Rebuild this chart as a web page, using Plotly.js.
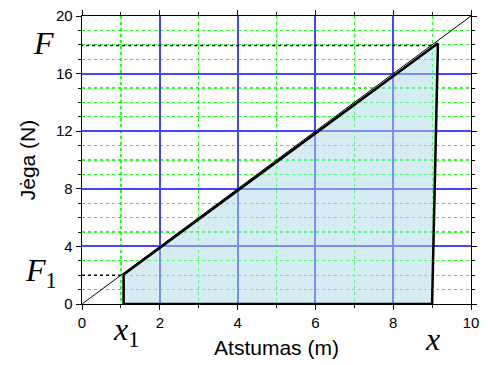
<!DOCTYPE html>
<html><head><meta charset="utf-8">
<script src="https://cdn.plot.ly/plotly-3.0.1.min.js"></script>
<style>body{margin:0;background:#fff}#c{width:491px;height:365px}</style>
</head><body><div id="c"></div>
<script>
// Reference line F = k x
const lineX = [0, 10];
const lineY = [0, 20];
// Shaded work area polygon (x1,F1) -> (x,F)
const areaX = [1.07, 1.07, 9.15, 9.0, 1.07];
const areaY = [0, 2.05, 18.1, 0, 0];
// Dotted guides for F1 and F
const guideF1X = [0, 1.07];
const guideF1Y = [2.0, 2.0];
const guideFX = [-0.2, 9.15];
const guideFY = [17.95, 17.95];
// Tick positions
const xTicks = [0, 2, 4, 6, 8, 10];
const yTicks = [0, 4, 8, 12, 16, 20];
const xMinor = [1, 3, 5, 7, 9];
const yMinor = [1, 2, 3, 5, 6, 7, 9, 10, 11, 13, 14, 15, 17, 18, 19];

const serif = 'Liberation Serif, Times New Roman, serif';
const sans = 'Arial, Liberation Sans, sans-serif';
const traces = [
  {x: areaX, y: areaY, mode: 'lines', fill: 'toself',
   fillcolor: 'rgba(170,218,230,0.5)',
   line: {color: 'black', width: 2.5}, hoverinfo: 'skip'},
  {x: lineX, y: lineY, mode: 'lines', line: {color: 'black', width: 1}},
  {x: guideF1X, y: guideF1Y, mode: 'lines', line: {color: 'black', width: 1.5, dash: 'dot'}, cliponaxis: false},
  {x: guideFX, y: guideFY, mode: 'lines', line: {color: 'black', width: 1.5, dash: 'dot'}, cliponaxis: false}
];

function axis(ticks, minorTicks, range, title, standoff) {
  return {
    range: range, tickmode: 'array', tickvals: ticks,
    showline: true, linecolor: 'black', linewidth: 1.4, mirror: 'ticks',
    ticks: 'outside', ticklen: 5, tickcolor: 'black', tickwidth: 1,
    showgrid: true, gridcolor: '#4646ff', gridwidth: 2, zeroline: false,
    tickfont: {family: sans, size: 15, color: 'black'},
    minor: {tickmode: 'array', tickvals: minorTicks, ticks: 'outside', ticklen: 3, tickcolor: 'black', tickwidth: 1,
            showgrid: true, gridcolor: '#22ff22', griddash: 'dot', gridwidth: 1.2},
    title: {text: title, font: {family: sans, size: 21, color: 'black'}, standoff: standoff}
  };
}

const layout = {
  width: 491, height: 365,
  margin: {l: 82, r: 20, t: 16, b: 61},
  paper_bgcolor: 'white', plot_bgcolor: 'white',
  showlegend: false,
  xaxis: axis(xTicks, xMinor, [0, 10], 'Atstumas (m)', 10),
  yaxis: axis(yTicks, yMinor, [0, 20], 'Jėga (N)', 14),
  annotations: [
    {text: '<i>F</i>', xref: 'paper', yref: 'y', x: -0.1, y: 18.1, showarrow: false,
     xanchor: 'center', yanchor: 'middle',
     font: {family: serif, size: 32, color: 'black'}},
    {text: '<i>F</i><sub>1</sub>', xref: 'paper', yref: 'y', x: -0.105, y: 2.2, showarrow: false,
     xanchor: 'center', yanchor: 'middle',
     font: {family: serif, size: 32, color: 'black'}},
    {text: '<i>x</i><sub>1</sub>', xref: 'x', yref: 'paper', x: 1.13, y: -0.097, showarrow: false,
     xanchor: 'center', yanchor: 'middle',
     font: {family: serif, size: 32, color: 'black'}},
    {text: '<i>x</i>', xref: 'x', yref: 'paper', x: 9.0, y: -0.121, showarrow: false,
     xanchor: 'center', yanchor: 'middle',
     font: {family: serif, size: 32, color: 'black'}}
  ]
};
Plotly.newPlot('c', traces, layout, {staticPlot: true});
</script></body></html>
